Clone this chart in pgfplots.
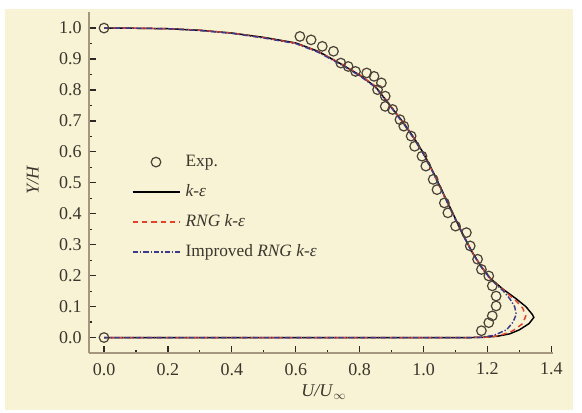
\documentclass[border=0pt]{standalone}
\usepackage{pgfplots}
\pgfplotsset{compat=1.18}
\usepackage{fontspec}
\setmainfont{Liberation Serif}
\usetikzlibrary{backgrounds}
\definecolor{cream}{RGB}{247,243,212}
\definecolor{axcol}{RGB}{165,150,128}
\definecolor{txt}{RGB}{60,53,45}
\definecolor{tickc}{RGB}{45,40,35}
\definecolor{expc}{RGB}{75,66,55}
\definecolor{rngred}{RGB}{232,64,42}
\definecolor{impblue}{RGB}{60,58,140}
\begin{document}
\begin{tikzpicture}
\begin{axis}[
  at={(66.75pt,44.25pt)}, anchor=south west,
  scale only axis, width=348pt, height=255.75pt,
  xmin=-0.047, xmax=1.405, ymin=-0.05, ymax=1.052,
  axis x line*=bottom, axis y line*=left,
  axis line style={axcol, line width=1.8pt, -},
  tick align=inside,
  major tick length=5pt, minor tick length=2.6pt,
  tick style={tickc, line width=0.9pt},
  xtick={0,0.2,...,1.4}, ytick={0,0.1,...,1.0},
  minor x tick num=1, minor y tick num=1,
  /pgf/number format/.cd, fixed, fixed zerofill, precision=1, assume math mode=true,
  /pgfplots/.cd,
  ticklabel style={font=\fontsize{13.5}{15}\selectfont, text=txt},
  xticklabel style={yshift=-4pt},
  yticklabel style={xshift=-2pt},
  xlabel={\textit{U/U}$_{\infty}$},
  ylabel={\textit{Y/H}},
  xlabel style={at={(axis description cs:0.506,-0.114)}, anchor=center, font=\fontsize{13.5}{15}\selectfont, text=txt},
  ylabel style={at={(axis description cs:-0.121,0.507)}, anchor=center, font=\fontsize{13.5}{15}\selectfont, text=txt},
  legend style={at={(axis cs:0.086,0.598)}, anchor=north west, draw=none, fill=none,
    inner sep=0pt, row sep=8.5pt, column sep=3pt,
    font=\fontsize{13}{15}\selectfont, text=txt,
    nodes={inner sep=1pt, text height=9pt, text depth=3pt}},
  legend cell align=left,
  legend image code/.code={\draw[mark repeat=2,mark phase=2,#1] plot coordinates {(0cm,0cm) (0.62cm,0cm) (1.24cm,0cm)};},
]
\addplot[only marks, mark=o, mark size=3.6pt, mark options={expc, line width=0.9pt}] coordinates {
(0,1.0) (0,0)
(0.613,0.973) (0.648,0.962) (0.683,0.941) (0.718,0.925) (0.741,0.887) (0.764,0.876)
(0.787,0.860) (0.822,0.855) (0.845,0.844) (0.868,0.823) (0.856,0.801) (0.880,0.780)
(0.880,0.747) (0.903,0.737) (0.926,0.704) (0.938,0.683) (0.961,0.651) (0.972,0.618)
(0.995,0.586) (1.007,0.554) (1.030,0.511) (1.042,0.478) (1.065,0.435) (1.076,0.403)
(1.100,0.360) (1.134,0.339) (1.146,0.296) (1.169,0.253) (1.181,0.220) (1.204,0.199)
(1.215,0.167) (1.227,0.134) (1.227,0.102) (1.215,0.070) (1.204,0.048) (1.181,0.022)
};
\addlegendentry{Exp.}
\addplot[black, line width=1.1pt] coordinates {
(0,1.0) (0.1,0.9995) (0.2,0.998) (0.3,0.993) (0.4,0.984) (0.5,0.970) (0.6,0.952)
(0.67,0.925) (0.74,0.885) (0.80,0.848) (0.85,0.81) (0.88,0.77) (0.91,0.73) (0.94,0.69)
(0.97,0.645) (1.0,0.595) (1.03,0.535) (1.06,0.47) (1.09,0.405) (1.12,0.34) (1.15,0.28)
(1.18,0.23) (1.21,0.19) (1.25,0.155) (1.29,0.125) (1.32,0.10) (1.34,0.075) (1.345,0.065)
(1.33,0.045) (1.30,0.025) (1.27,0.012) (1.23,0.004) (1.19,0.001) (1.15,0) (0,0)
};
\addlegendentry{\textit{k-ε}}
\addplot[rngred, line width=1.1pt, dash pattern=on 4pt off 3pt] coordinates {
(0,1.0) (0.1,0.9995) (0.2,0.998) (0.3,0.993) (0.4,0.984) (0.5,0.969) (0.6,0.951)
(0.67,0.924) (0.74,0.886) (0.80,0.849) (0.85,0.812) (0.88,0.772) (0.91,0.731) (0.94,0.69)
(0.97,0.644) (1.0,0.593) (1.03,0.533) (1.06,0.468) (1.09,0.403) (1.12,0.339) (1.15,0.279)
(1.18,0.229) (1.21,0.189) (1.25,0.153) (1.29,0.118) (1.31,0.095) (1.32,0.07)
(1.31,0.045) (1.28,0.022) (1.24,0.007) (1.2,0.001) (1.15,0) (0,0)
};
\addlegendentry{\textit{RNG k-ε}}
\addplot[impblue, line width=1.1pt, dash pattern=on 4pt off 1.5pt on 1pt off 1.5pt] coordinates {
(0,1.0) (0.1,0.9995) (0.2,0.998) (0.3,0.992) (0.4,0.983) (0.5,0.968) (0.6,0.950)
(0.67,0.922) (0.74,0.883) (0.80,0.846) (0.85,0.808) (0.88,0.769) (0.91,0.728) (0.94,0.687)
(0.97,0.642) (1.0,0.592) (1.03,0.532) (1.06,0.467) (1.09,0.402) (1.12,0.338) (1.15,0.278)
(1.18,0.228) (1.21,0.188) (1.25,0.15) (1.27,0.125) (1.285,0.10) (1.29,0.075)
(1.28,0.05) (1.26,0.025) (1.22,0.007) (1.18,0.001) (1.15,0) (0,0)
};
\addlegendentry{Improved \textit{RNG k-ε}}
\end{axis}
\begin{scope}[on background layer]
\fill[white] (0,0) rectangle (436.5pt,309pt);
\fill[cream] (3.75pt,1.5pt) rectangle (429.75pt,302.25pt);
\end{scope}
\end{tikzpicture}
\end{document}
